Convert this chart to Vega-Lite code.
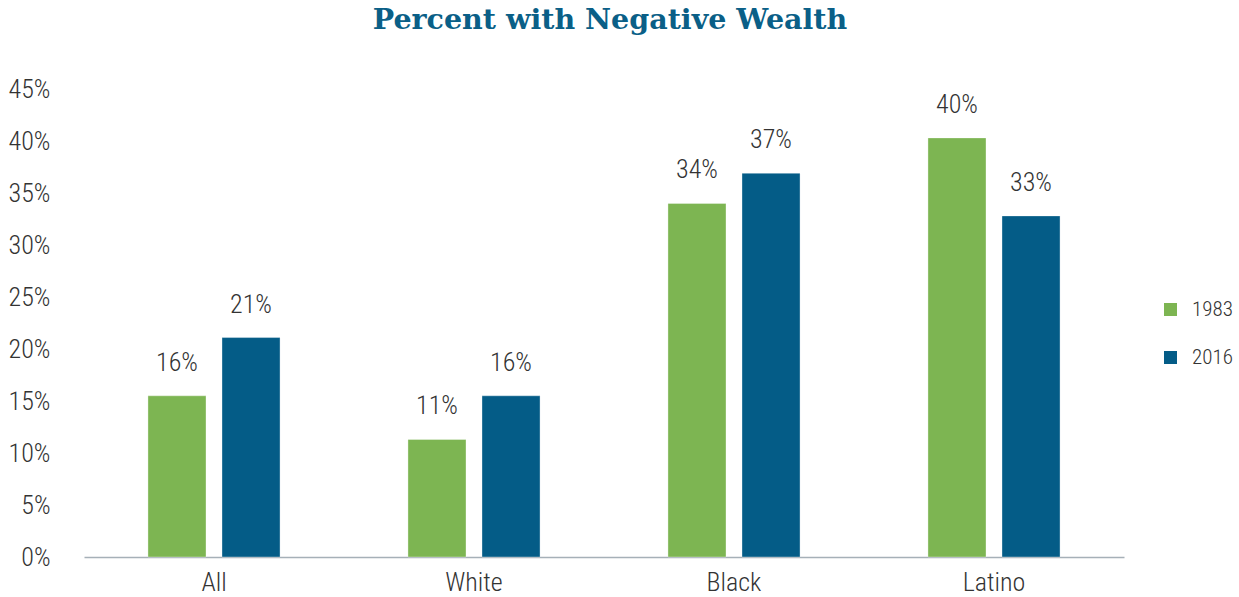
{
  "$schema": "https://vega.github.io/schema/vega-lite/v6.json",
  "width": 1040,
  "height": 468,
  "autosize": {"type": "none"},
  "padding": {"left": 84, "top": 89, "right": 115, "bottom": 40},
  "background": "white",
  "view": {"stroke": null},
  "title": {
    "text": "Percent with Negative Wealth",
    "font": "DejaVu Serif",
    "fontWeight": "bold",
    "fontSize": 28.5,
    "color": "#0a5f87",
    "anchor": "middle",
    "frame": "group",
    "offset": 42,
    "dx": 6
  },
  "data": {
    "values": [
      {"group": "All", "year": "1983", "value": 0.155, "label": "16%"},
      {"group": "All", "year": "2016", "value": 0.211, "label": "21%"},
      {"group": "White", "year": "1983", "value": 0.113, "label": "11%"},
      {"group": "White", "year": "2016", "value": 0.155, "label": "16%"},
      {"group": "Black", "year": "1983", "value": 0.340, "label": "34%"},
      {"group": "Black", "year": "2016", "value": 0.369, "label": "37%"},
      {"group": "Latino", "year": "1983", "value": 0.403, "label": "40%"},
      {"group": "Latino", "year": "2016", "value": 0.328, "label": "33%"}
    ]
  },
  "encoding": {
    "x": {
      "field": "group",
      "type": "nominal",
      "sort": ["All", "White", "Black", "Latino"],
      "scale": {"paddingInner": 0.492, "paddingOuter": 0.246},
      "axis": {
        "title": null,
        "domainColor": "#a6b0b8",
        "domainWidth": 1.5,
        "ticks": false,
        "labelAngle": 0,
        "labelFont": "Roboto Condensed, DejaVu Sans Condensed, Roboto, sans-serif",
        "labelFontSize": 26,
        "labelFontWeight": 300,
        "labelColor": "#333333",
        "labelPadding": 12
      }
    },
    "xOffset": {
      "field": "year",
      "type": "nominal",
      "scale": {"paddingInner": 0.216, "paddingOuter": 0}
    },
    "y": {
      "field": "value",
      "type": "quantitative",
      "scale": {"domain": [0, 0.45], "nice": false},
      "axis": {
        "title": null,
        "format": ".0%",
        "values": [0, 0.05, 0.1, 0.15, 0.2, 0.25, 0.3, 0.35, 0.4, 0.45],
        "domain": false,
        "ticks": false,
        "grid": false,
        "labelFont": "Roboto Condensed, DejaVu Sans Condensed, Roboto, sans-serif",
        "labelFontSize": 26,
        "labelFontWeight": 300,
        "labelColor": "#333333",
        "labelPadding": 34
      }
    }
  },
  "layer": [
    {
      "mark": {"type": "bar", "stroke": "#ffffff", "strokeOpacity": 0.35, "strokeWidth": 1},
      "encoding": {
        "color": {
          "field": "year",
          "type": "nominal",
          "scale": {"domain": ["1983", "2016"], "range": ["#7db552", "#045c87"]},
          "legend": {
            "title": null,
            "orient": "none",
            "legendX": 1076,
            "legendY": 210,
            "symbolType": "square",
            "symbolSize": 169,
            "symbolStrokeWidth": 0,
            "labelFont": "Roboto Condensed, DejaVu Sans Condensed, Roboto, sans-serif",
            "labelFontSize": 21,
            "labelFontWeight": 300,
            "labelColor": "#333333",
            "labelOffset": 11,
            "rowPadding": 26
          }
        }
      }
    },
    {
      "mark": {
        "type": "text",
        "baseline": "alphabetic",
        "dy": -25,
        "font": "Roboto Condensed, DejaVu Sans Condensed, Roboto, sans-serif",
        "fontSize": 26,
        "fontWeight": 300,
        "color": "#333333"
      },
      "encoding": {
        "text": {"field": "label"}
      }
    }
  ]
}
